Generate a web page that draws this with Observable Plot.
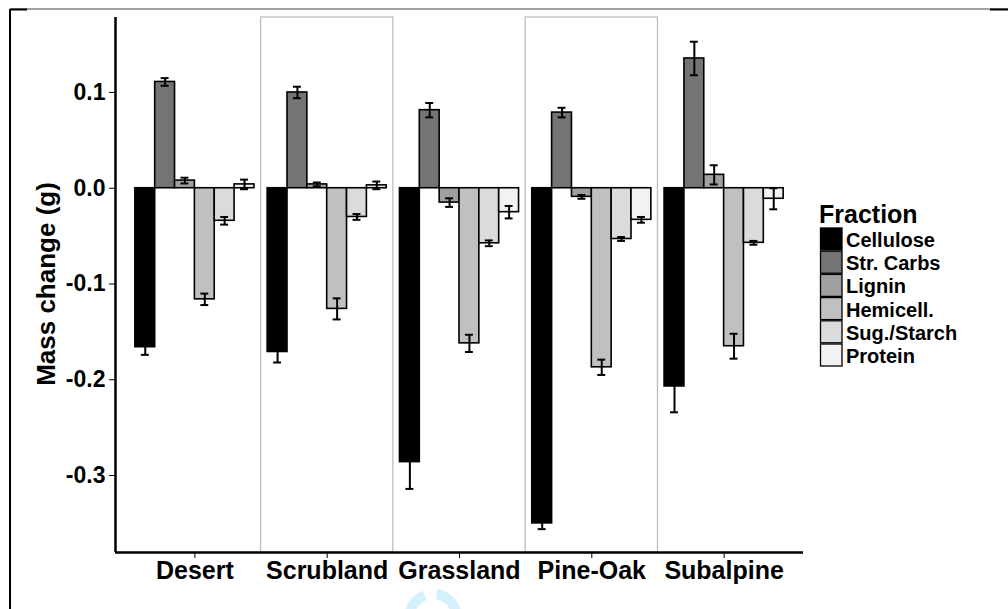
<!DOCTYPE html>
<html>
<head>
<meta charset="utf-8">
<script src="https://cdn.jsdelivr.net/npm/d3@7"></script>
<script src="https://cdn.jsdelivr.net/npm/@observablehq/plot@0.6"></script>
<style>
  html, body { margin: 0; padding: 0; background: #fff; }
  #wrap { position: relative; width: 1008px; height: 609px; overflow: hidden; background: #fff; }
  #chart, #legend, #deco { position: absolute; left: 0; top: 0; }
  #chart svg { font-family: "Liberation Sans", Arial, sans-serif; font-weight: bold; }
</style>
</head>
<body>
<div id="wrap">
  <div id="chart"></div>
  <svg id="legend" width="1008" height="609"></svg>
  <svg id="deco" width="1008" height="609"></svg>
</div>
<script>
// ---- data ----
const sites = ["Desert", "Scrubland", "Grassland", "Pine-Oak", "Subalpine"];
const shadedSites = ["Scrubland", "Pine-Oak"];
const fractions = ["Cellulose", "Str. Carbs", "Lignin", "Hemicell.", "Sug./Starch", "Protein"];
const fractionColors = ["#000000", "#747474", "#a0a0a0", "#c0c0c0", "#dbdbdb", "#f2f2f2"];
const yTitle = "Mass change (g)";
const legendTitle = "Fraction";

// mean mass change (g) per site, for each fraction
const cellulose  = [-0.166, -0.171, -0.286, -0.350, -0.207];
const strCarbs   = [ 0.111,  0.100,  0.0815, 0.079,  0.1355];
const lignin     = [ 0.008,  0.004, -0.015, -0.009,  0.014];
const hemicell   = [-0.116, -0.126, -0.162, -0.187, -0.165];
const sugStarch  = [-0.034, -0.030, -0.0575, -0.053, -0.057];
const protein    = [ 0.004,  0.003, -0.025, -0.033, -0.011];

// standard errors
const celluloseSE = [0.008, 0.011, 0.028, 0.006, 0.027];
const strCarbsSE  = [0.004, 0.006, 0.0075, 0.005, 0.0175];
const ligninSE    = [0.003, 0.002, 0.0045, 0.002, 0.010];
const hemicellSE  = [0.006, 0.011, 0.009, 0.008, 0.013];
const sugStarchSE = [0.004, 0.003, 0.003, 0.002, 0.002];
const proteinSE   = [0.005, 0.004, 0.0065, 0.003, 0.011];

const yTicks = [0.1, 0.0, -0.1, -0.2, -0.3];
const yTickLabels = ["0.1", "0.0", "-0.1", "-0.2", "-0.3"];
const yDomain = [-0.3804, 0.1783];
const xDomain = [0.4, 5.6];

// ---- table ----
const means = [cellulose, strCarbs, lignin, hemicell, sugStarch, protein];
const ses = [celluloseSE, strCarbsSE, ligninSE, hemicellSE, sugStarchSE, proteinSE];
const dodge = 0.9, bw = dodge / fractions.length;
const rows = [];
sites.forEach((s, si) => {
  fractions.forEach((f, fi) => {
    const c = (si + 1) - dodge / 2 + bw * (fi + 0.5);
    rows.push({site: s, fraction: f, value: means[fi][si], se: ses[fi][si], c, x1: c - bw / 2, x2: c + bw / 2});
  });
});
const shaded = shadedSites.map(s => ({site: s, i: sites.indexOf(s) + 1}));
const capHalf = 0.03;
const FONT = "Liberation Sans, Arial, sans-serif";

const chart = Plot.plot({
  width: 1008, height: 609,
  marginLeft: 115, marginRight: 205, marginTop: 17, marginBottom: 57,
  style: {fontFamily: FONT, fontWeight: "bold", color: "#000", background: "transparent", overflow: "visible"},
  x: {type: "linear", domain: xDomain},
  y: {domain: yDomain},
  color: {type: "ordinal", domain: fractions, range: fractionColors},
  marks: [
    Plot.rect(shaded, {x1: d => d.i - 0.5, x2: d => d.i + 0.5, y1: yDomain[0], y2: yDomain[1], fill: "white", stroke: "#bdbdbd", strokeWidth: 1.3}),
    Plot.rect(rows, {x1: "x1", x2: "x2", y1: 0, y2: "value", fill: "fraction", stroke: "black", strokeWidth: 1.6}),
    Plot.ruleX(rows, {x: "c", y1: d => d.value - d.se, y2: d => d.value + d.se, stroke: "black", strokeWidth: 2}),
    Plot.ruleY(rows, {y: d => d.value + d.se, x1: d => d.c - capHalf, x2: d => d.c + capHalf, stroke: "black", strokeWidth: 2}),
    Plot.ruleY(rows, {y: d => d.value - d.se, x1: d => d.c - capHalf, x2: d => d.c + capHalf, stroke: "black", strokeWidth: 2}),
    Plot.axisY({ticks: yTicks, tickFormat: d => yTickLabels[yTicks.indexOf(d)], tickSize: 6, tickPadding: 4, fontSize: 23, label: null}),
    Plot.axisX({ticks: [1, 2, 3, 4, 5], tickFormat: d => sites[d - 1], tickSize: 6, tickPadding: 3, fontSize: 25, label: null}),
    Plot.ruleX([xDomain[0]], {y1: yDomain[0], y2: yDomain[1], stroke: "black", strokeWidth: 2.5}),
    Plot.ruleY([yDomain[0]], {x1: xDomain[0], x2: xDomain[1], stroke: "black", strokeWidth: 2.5})
  ]
});
document.getElementById("chart").appendChild(chart);

// ---- y-axis title and legend ----
const lg = d3.select("#legend");
lg.append("text").attr("transform", "translate(55,284) rotate(-90)").attr("text-anchor", "middle").text(yTitle)
  .attr("font-family", FONT).attr("font-weight", "bold").attr("font-size", 26);
lg.append("text").attr("x", 819).attr("y", 223).text(legendTitle)
  .attr("font-family", FONT).attr("font-weight", "bold").attr("font-size", 25);
fractions.forEach((f, i) => {
  const top = 228 + i * 23.2;
  lg.append("rect").attr("x", 820.5).attr("y", top).attr("width", 21.5).attr("height", 22)
    .attr("fill", fractionColors[i]).attr("stroke", "black").attr("stroke-width", 1.3);
  lg.append("text").attr("x", 846).attr("y", top + 19).text(f)
    .attr("font-family", FONT).attr("font-weight", "bold").attr("font-size", 20);
});

// ---- page decorations (scan border and faint watermark) ----
const dg = d3.select("#deco");
dg.append("line").attr("x1", 10).attr("x2", 1008).attr("y1", 9).attr("y2", 9).attr("stroke", "#444").attr("stroke-width", 1.2);
dg.append("line").attr("x1", 10).attr("x2", 27).attr("y1", 9.5).attr("y2", 9.5).attr("stroke", "#000").attr("stroke-width", 2);
dg.append("line").attr("x1", 990).attr("x2", 1008).attr("y1", 9.5).attr("y2", 9.5).attr("stroke", "#000").attr("stroke-width", 2);
dg.append("line").attr("x1", 10).attr("x2", 10).attr("y1", 9).attr("y2", 609).attr("stroke", "#000").attr("stroke-width", 2);
const arc = d3.arc().innerRadius(19).outerRadius(29);
dg.append("path").attr("transform", "translate(433,618)").attr("d", arc({startAngle: -1.9, endAngle: -0.35})).attr("fill", "#d3f0fc");
dg.append("path").attr("transform", "translate(433,618)").attr("d", arc({startAngle: 0.15, endAngle: 1.9})).attr("fill", "#d3f0fc");
</script>
</body>
</html>
